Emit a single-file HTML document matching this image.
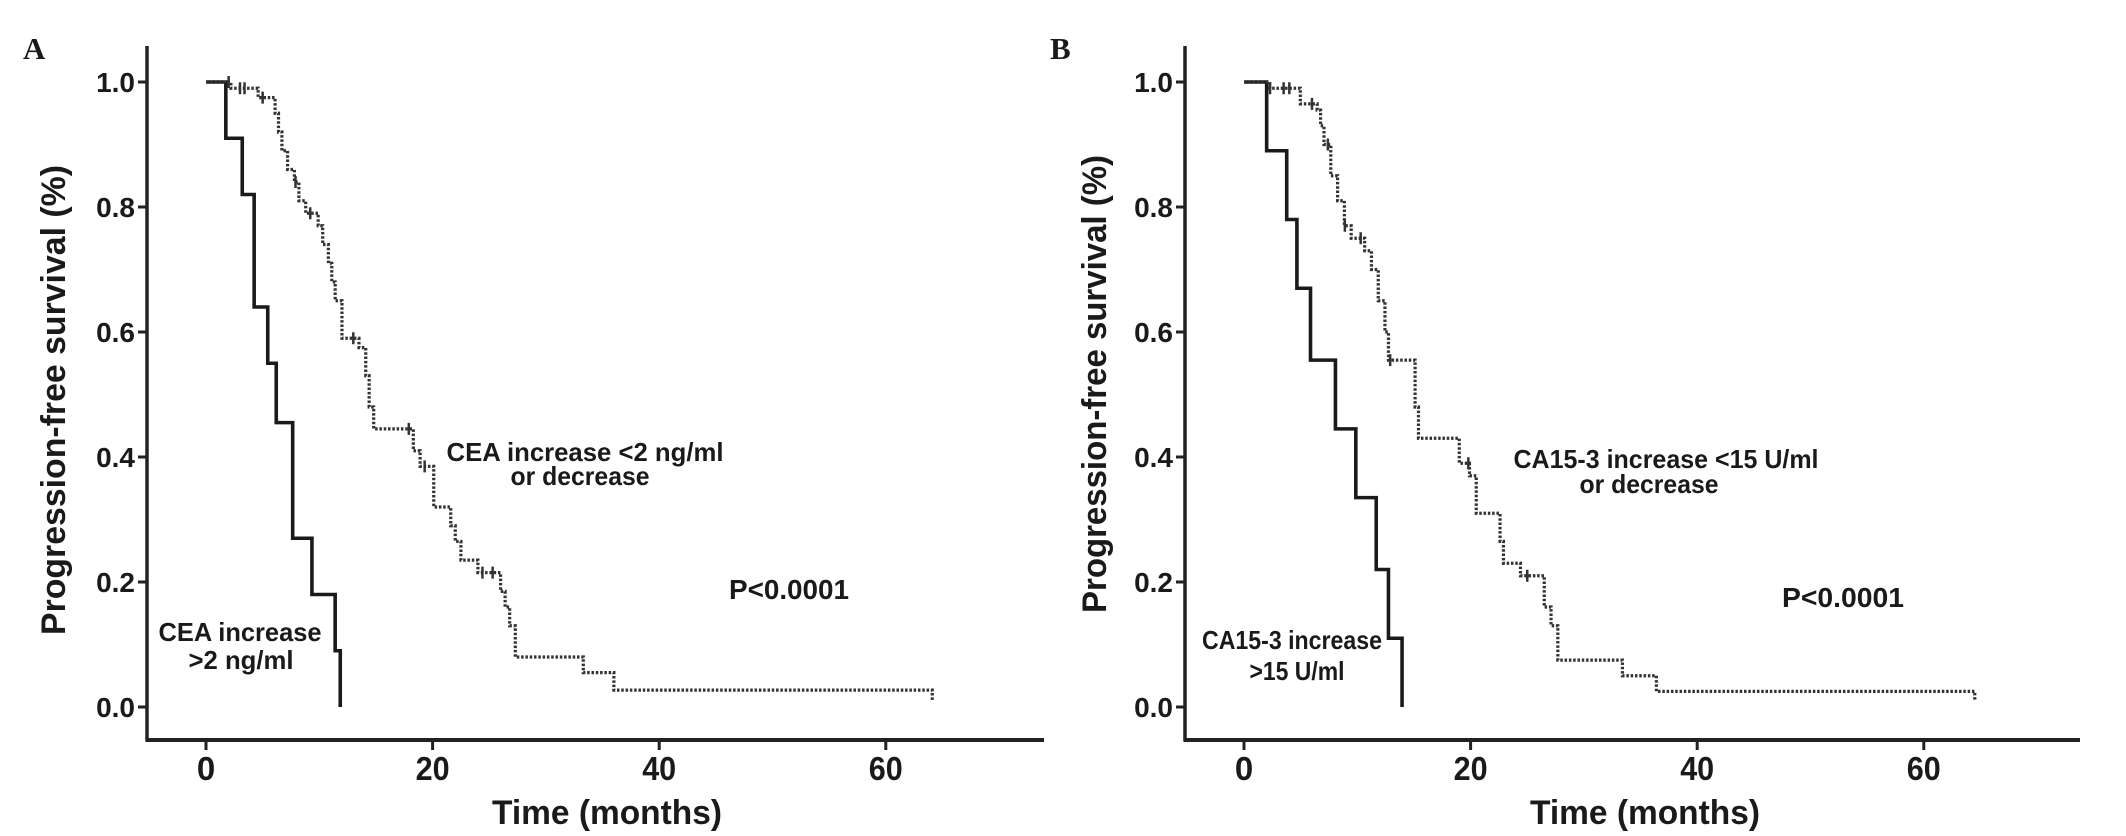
<!DOCTYPE html>
<html><head><meta charset="utf-8"><style>
html,body{margin:0;padding:0;background:#fff;}
svg{display:block;}
text{font-family:"Liberation Sans",Arial,sans-serif;font-weight:bold;fill:#1a1a1a;}
</style></head><body>
<svg id="chart" width="2126" height="836" viewBox="0 0 2126 836"></svg>
<script>
const xTicks = [0, 20, 40, 60];
const yTicks = [0.0, 0.2, 0.4, 0.6, 0.8, 1.0];
const yTickLabels = ["0.0", "0.2", "0.4", "0.6", "0.8", "1.0"];
// Panel A
const aSolidTimes = [0, 1.75, 3.2, 4.25, 5.45, 6.2, 7.65, 9.35, 11.4, 11.85];
const aSolidVals  = [1.0, 0.91, 0.82, 0.64, 0.55, 0.455, 0.27, 0.18, 0.09, 0.0];
const aDotTimes = [0, 2.2, 4.6, 6.1, 6.4, 6.7, 7.2, 7.8, 8.2, 8.8, 9.9, 10.3, 10.8, 11.1, 11.4, 12.0, 13.5, 14.1, 14.4, 14.8, 18.3, 18.9, 20.1, 21.6, 22.0, 22.5, 24.0, 26.0, 26.4, 26.8, 27.3, 33.3, 36.0, 64.1];
const aDotVals  = [1.0, 0.99, 0.975, 0.95, 0.92, 0.89, 0.86, 0.84, 0.81, 0.79, 0.77, 0.74, 0.71, 0.68, 0.65, 0.59, 0.575, 0.53, 0.48, 0.445, 0.41, 0.385, 0.32, 0.29, 0.265, 0.235, 0.215, 0.185, 0.16, 0.13, 0.08, 0.055, 0.027, 0.01];
const aCensorTimes = [2.0, 3.0, 3.4, 5.0, 7.9, 9.2, 13.0, 17.9, 19.3, 24.4, 25.3];
// Panel B
const bSolidTimes = [0, 2.0, 3.77, 4.67, 5.87, 8.07, 9.87, 11.67, 12.75, 13.95];
const bSolidVals  = [1.0, 0.89, 0.78, 0.67, 0.555, 0.445, 0.335, 0.22, 0.11, 0.0];
const bDotTimes = [0, 2.27, 4.97, 6.46, 6.76, 7.06, 7.66, 8.26, 8.86, 9.46, 10.65, 11.25, 11.85, 12.44, 12.75, 15.1, 15.4, 19.0, 19.9, 20.5, 22.6, 22.9, 24.4, 26.5, 27.1, 27.7, 33.4, 36.4, 64.5];
const bDotVals  = [1.0, 0.99, 0.965, 0.955, 0.93, 0.90, 0.85, 0.81, 0.77, 0.75, 0.73, 0.70, 0.65, 0.60, 0.555, 0.48, 0.43, 0.39, 0.37, 0.31, 0.265, 0.23, 0.21, 0.16, 0.13, 0.075, 0.05, 0.025, 0.01];
const bCensorTimes = [2.3, 3.5, 4.0, 6.0, 7.4, 8.9, 10.3, 12.9, 19.8, 25.0];

const NS = "http://www.w3.org/2000/svg";
const svg = document.getElementById("chart");
function mk(tag, attrs, parent) {
  const e = document.createElementNS(NS, tag);
  for (const k in attrs) e.setAttribute(k, attrs[k]);
  (parent || svg).appendChild(e);
  return e;
}
function stepAt(times, vals, t) {
  let v = vals[0];
  for (let i = 0; i < times.length; i++) if (times[i] <= t) v = vals[i];
  return v;
}
function panel(cfg) {
  const g = mk("g", {});
  
  
  const xs = t => cfg.x0 + t * 11.33;
  const ys = v => 707 - v * 625;
  const L = mk("text", {x: cfg.letterX, y: 59, "font-size": 31, style: "font-family:'Liberation Serif',serif;font-weight:bold"}, g);
  L.textContent = cfg.letter;
  
  
  const ya = mk("line", {x1: cfg.ax, y1: 46, x2: cfg.ax, y2: 741, stroke: "#222", "stroke-width": 3.5}, g);
  
  
  const xa = mk("line", {x1: cfg.ax - 1.5, y1: 740, x2: cfg.axEnd, y2: 740, stroke: "#222", "stroke-width": 4}, g);
  
  
  yTicks.forEach((v, i) => {
    mk("line", {x1: cfg.ax - 9, y1: ys(v), x2: cfg.ax, y2: ys(v), stroke: "#222", "stroke-width": 3}, g);
    const t = mk("text", {x: cfg.ax - 12, y: ys(v) + 10, "font-size": 28, "text-anchor": "end"}, g);
    t.textContent = yTickLabels[i];
    
    
  });
  xTicks.forEach(m => {
    mk("line", {x1: xs(m), y1: 740, x2: xs(m), y2: 750, stroke: "#222", "stroke-width": 3}, g);
    const s = String(m);
    const attrs = {x: xs(m), y: 780, "font-size": 33, "text-anchor": "middle"};
    if (s.length === 2) { attrs.textLength = 34; attrs.lengthAdjust = "spacingAndGlyphs"; }
    const t = mk("text", attrs, g);
    t.textContent = s;
    
    
  });
  const xt = mk("text", {x: cfg.x0 + 401, y: 824, "font-size": 34, "text-anchor": "middle", textLength: 230, lengthAdjust: "spacingAndGlyphs"}, g);
  xt.textContent = "Time (months)";
  
  
  const yt = mk("text", {x: 0, y: 0, "font-size": 34, "text-anchor": "middle", textLength: cfg.yTitleLen, lengthAdjust: "spacingAndGlyphs", transform: `translate(${cfg.yTitleX},${cfg.yTitleY}) rotate(-90)`}, g);
  yt.textContent = "Progression-free survival (%)";
  
  
  function stepPath(times, vals) {
    let d = `M${xs(times[0])},${ys(vals[0])}`;
    for (let i = 1; i < times.length; i++) {
      d += ` H${xs(times[i])} V${ys(vals[i])}`;
    }
    return d;
  }
  const sp = mk("path", {d: stepPath(cfg.st, cfg.sv), fill: "none", stroke: "#1a1a1a", "stroke-width": 3.6}, g);
  
  
  const dp = mk("path", {d: stepPath(cfg.dt, cfg.dv), fill: "none", stroke: "#333", "stroke-width": 3.2, "stroke-dasharray": "2.5,1.8"}, g);
  
  
  cfg.ct.forEach(t => {
    const v = stepAt(cfg.dt, cfg.dv, t);
    const c = mk("line", {x1: xs(t), y1: ys(v) - 6, x2: xs(t), y2: ys(v) + 6, stroke: "#333", "stroke-width": 2.5}, g);
    
    
  });
  cfg.labels.forEach(l => {
    const t = mk("text", {x: l.x, y: l.y, "font-size": l.fs, "text-anchor": "middle", textLength: l.w, lengthAdjust: "spacingAndGlyphs"}, g);
    t.textContent = l.s;
    
    
  });
}
panel({name: "panel-a", letter: "A", letterX: 23, ax: 147, axEnd: 1044, x0: 206, yTitleX: 65, yTitleY: 400, yTitleLen: 470,
  st: aSolidTimes, sv: aSolidVals, dt: aDotTimes, dv: aDotVals, ct: aCensorTimes,
  labels: [
    {s: "CEA increase  <2 ng/ml", x: 585, y: 461, fs: 26, w: 277, n: "decrease-group-label"},
    {s: "or decrease", x: 580, y: 485, fs: 26, w: 139, n: "decrease-group-label-line2"},
    {s: "P<0.0001", x: 789, y: 599, fs: 28, w: 120, n: "p-value"},
    {s: "CEA increase", x: 240, y: 641, fs: 26, w: 163, n: "increase-group-label"},
    {s: ">2 ng/ml", x: 241, y: 669, fs: 26, w: 105, n: "increase-group-label-line2"}
  ]});
panel({name: "panel-b", letter: "B", letterX: 1050, ax: 1185, axEnd: 2080, x0: 1244, yTitleX: 1106, yTitleY: 384, yTitleLen: 458,
  st: bSolidTimes, sv: bSolidVals, dt: bDotTimes, dv: bDotVals, ct: bCensorTimes,
  labels: [
    {s: "CA15-3 increase <15 U/ml", x: 1666, y: 468, fs: 26, w: 305, n: "decrease-group-label"},
    {s: "or decrease", x: 1649, y: 493, fs: 26, w: 139, n: "decrease-group-label-line2"},
    {s: "P<0.0001", x: 1843, y: 607, fs: 28, w: 122, n: "p-value"},
    {s: "CA15-3 increase", x: 1292, y: 649, fs: 26, w: 180, n: "increase-group-label"},
    {s: ">15 U/ml", x: 1297, y: 680, fs: 26, w: 95, n: "increase-group-label-line2"}
  ]});
</script>
</body></html>
